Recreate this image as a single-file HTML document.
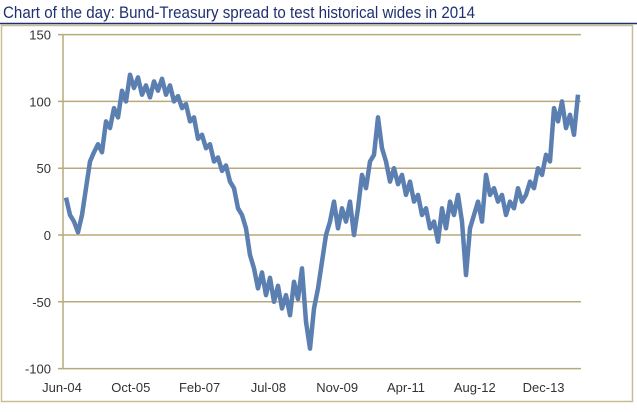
<!DOCTYPE html>
<html><head><meta charset="utf-8"><style>
body{margin:0;background:#fff;}
svg{display:block;font-family:"Liberation Sans",sans-serif;}
</style></head><body>
<svg width="637" height="413">
<text x="3" y="18" font-size="17" fill="#1f3070" textLength="472" lengthAdjust="spacingAndGlyphs">Chart of the day: Bund-Treasury spread to test historical wides in 2014</text>
<line x1="0" y1="23.5" x2="637" y2="23.5" stroke="#1f3070" stroke-width="1.5"/>
<rect x="1.5" y="25.5" width="631" height="376" fill="#fff" stroke="#c9bd96" stroke-width="1.5"/>
<g id="grid"></g><g id="yt"></g><g id="xt"></g><g id="ser"></g>
</svg>
<script>
const yTicks=[150,100,50,0,-50,-100];
const xLabels=["Jun-04","Oct-05","Feb-07","Jul-08","Nov-09","Apr-11","Aug-12","Dec-13"];
const spread=[28,15,10,2,15,35,55,62,68,62,85,80,95,88,108,100,120,110,118,105,112,103,115,108,117,105,112,100,104,95,98,85,88,72,75,65,68,55,58,48,52,40,35,20,15,5,-15,-25,-40,-28,-45,-32,-50,-38,-55,-45,-60,-35,-48,-25,-65,-85,-55,-40,-20,0,10,25,5,20,10,25,0,20,45,35,55,60,88,65,55,40,50,38,45,30,40,25,30,15,20,5,10,-5,20,5,25,15,30,10,-30,5,15,25,10,45,30,35,25,30,15,25,20,35,25,30,40,35,50,45,60,55,95,85,100,80,90,75,105];
const NS="http://www.w3.org/2000/svg";
const X0=63,X1=581;
function yS(v){return 235-v*(66.8/50);}
function xS(i){return 66+i*(578-66)/(spread.length-1);}
const grid=document.getElementById('grid'),yt=document.getElementById('yt'),xt=document.getElementById('xt'),ser=document.getElementById('ser');
yTicks.forEach(v=>{
 const l=document.createElementNS(NS,'line');
 l.setAttribute('x1',X0-5);l.setAttribute('x2',X1);l.setAttribute('y1',yS(v));l.setAttribute('y2',yS(v));
 l.setAttribute('stroke','#b8aa7a');l.setAttribute('stroke-width','1.5');
 
 
 grid.appendChild(l);
 const t=document.createElementNS(NS,'text');
 t.setAttribute('x',51);t.setAttribute('y',yS(v)+5);t.setAttribute('text-anchor','end');t.setAttribute('font-size','13');t.setAttribute('fill','#333');
 t.textContent=v;
 
 
 yt.appendChild(t);
});
const ax=document.createElementNS(NS,'line');
ax.setAttribute('x1',X0);ax.setAttribute('x2',X0);ax.setAttribute('y1',yS(150));ax.setAttribute('y2',yS(-100));ax.setAttribute('stroke','#b8aa7a');ax.setAttribute('stroke-width','1.5');


grid.appendChild(ax);
xLabels.forEach((s,i)=>{
 const t=document.createElementNS(NS,'text');
 t.setAttribute('x',62+i*68.8);t.setAttribute('y',392);t.setAttribute('text-anchor','middle');t.setAttribute('font-size','13');t.setAttribute('fill','#333');
 t.textContent=s;
 
 
 xt.appendChild(t);
});
const p=document.createElementNS(NS,'polyline');
p.setAttribute('points',spread.map((v,i)=>xS(i).toFixed(1)+','+yS(v).toFixed(1)).join(' '));
p.setAttribute('fill','none');p.setAttribute('stroke','#5b7fb0');p.setAttribute('stroke-width','4.5');p.setAttribute('stroke-linejoin','round');


ser.appendChild(p);
</script>
</body></html>
